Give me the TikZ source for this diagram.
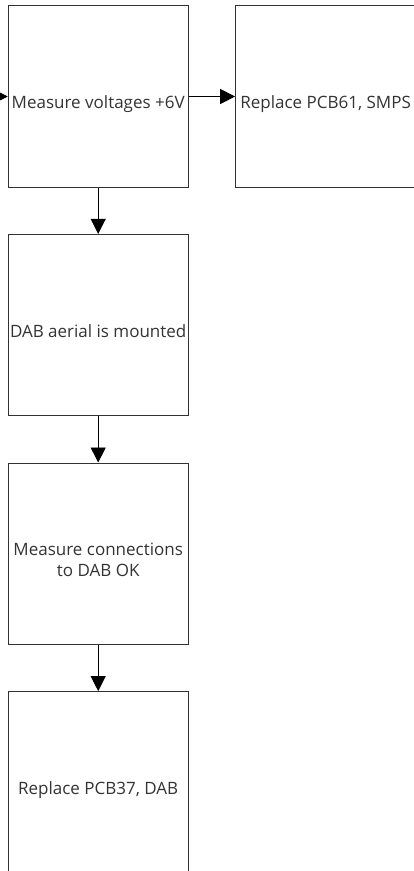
\documentclass[tikz,border=0pt]{standalone}
\usepackage{fontspec}
\setmainfont{Open Sans}
\usetikzlibrary{arrows.meta, positioning}
\definecolor{boxgrey}{RGB}{50,50,50}
\definecolor{textgrey}{RGB}{51,51,51}

\begin{document}
\begin{tikzpicture}[x=1pt, y=-1pt,
    stepbox/.style={draw=boxgrey, line width=0.9pt, minimum width=180pt, minimum height=181.5pt, inner sep=0pt},
    steptext/.style={font=\fontsize{17}{20.7}\selectfont, text=textgrey, align=center, inner sep=0pt, yshift=-6pt},
    arrow/.style={-{Triangle[length=15pt, width=15pt]}, line width=0.9pt, draw=black}
]
    \useasboundingbox (0,0) rectangle (414,871);

    % Check boxes, left column top to bottom
    \node[stepbox] (volt) at (98.2,96.5) {};
    \node[stepbox, below=46.2pt of volt] (aerial) {};
    \node[stepbox, below=46.2pt of aerial] (conn) {};
    \node[stepbox, below=46.2pt of conn] (dab) {};

    % Repair box to the right of the voltage check
    \node[stepbox, right=46.5pt of volt] (smps) {};

    % Box texts, set a little below the box centres
    \node[steptext, text depth=0pt] (volt_txt) at (volt.center) {Measure voltages +6V};
    \node[steptext, text depth=0pt] (aerial_txt) at (aerial.center) {DAB aerial is mounted};
    \node[steptext] (conn_txt) at (conn.center) {Measure connections\\to DAB OK};
    \node[steptext, text depth=0pt] (dab_txt) at (dab.center) {Replace PCB37, DAB};
    \node[steptext, text depth=0pt] (smps_txt) at (smps.center) {Replace PCB61, SMPS};

    % Incoming flow from outside the picture
    \coordinate[left=30pt of volt.west] (entry);
    \draw[arrow] (entry) -- (volt.west);

    % Flow arrows
    \draw[arrow] (volt.east) -- (smps.west);
    \draw[arrow] (volt.south) -- (aerial.north);
    \draw[arrow] (aerial.south) -- (conn.north);
    \draw[arrow] (conn.south) -- (dab.north);

\end{tikzpicture}
\end{document}
